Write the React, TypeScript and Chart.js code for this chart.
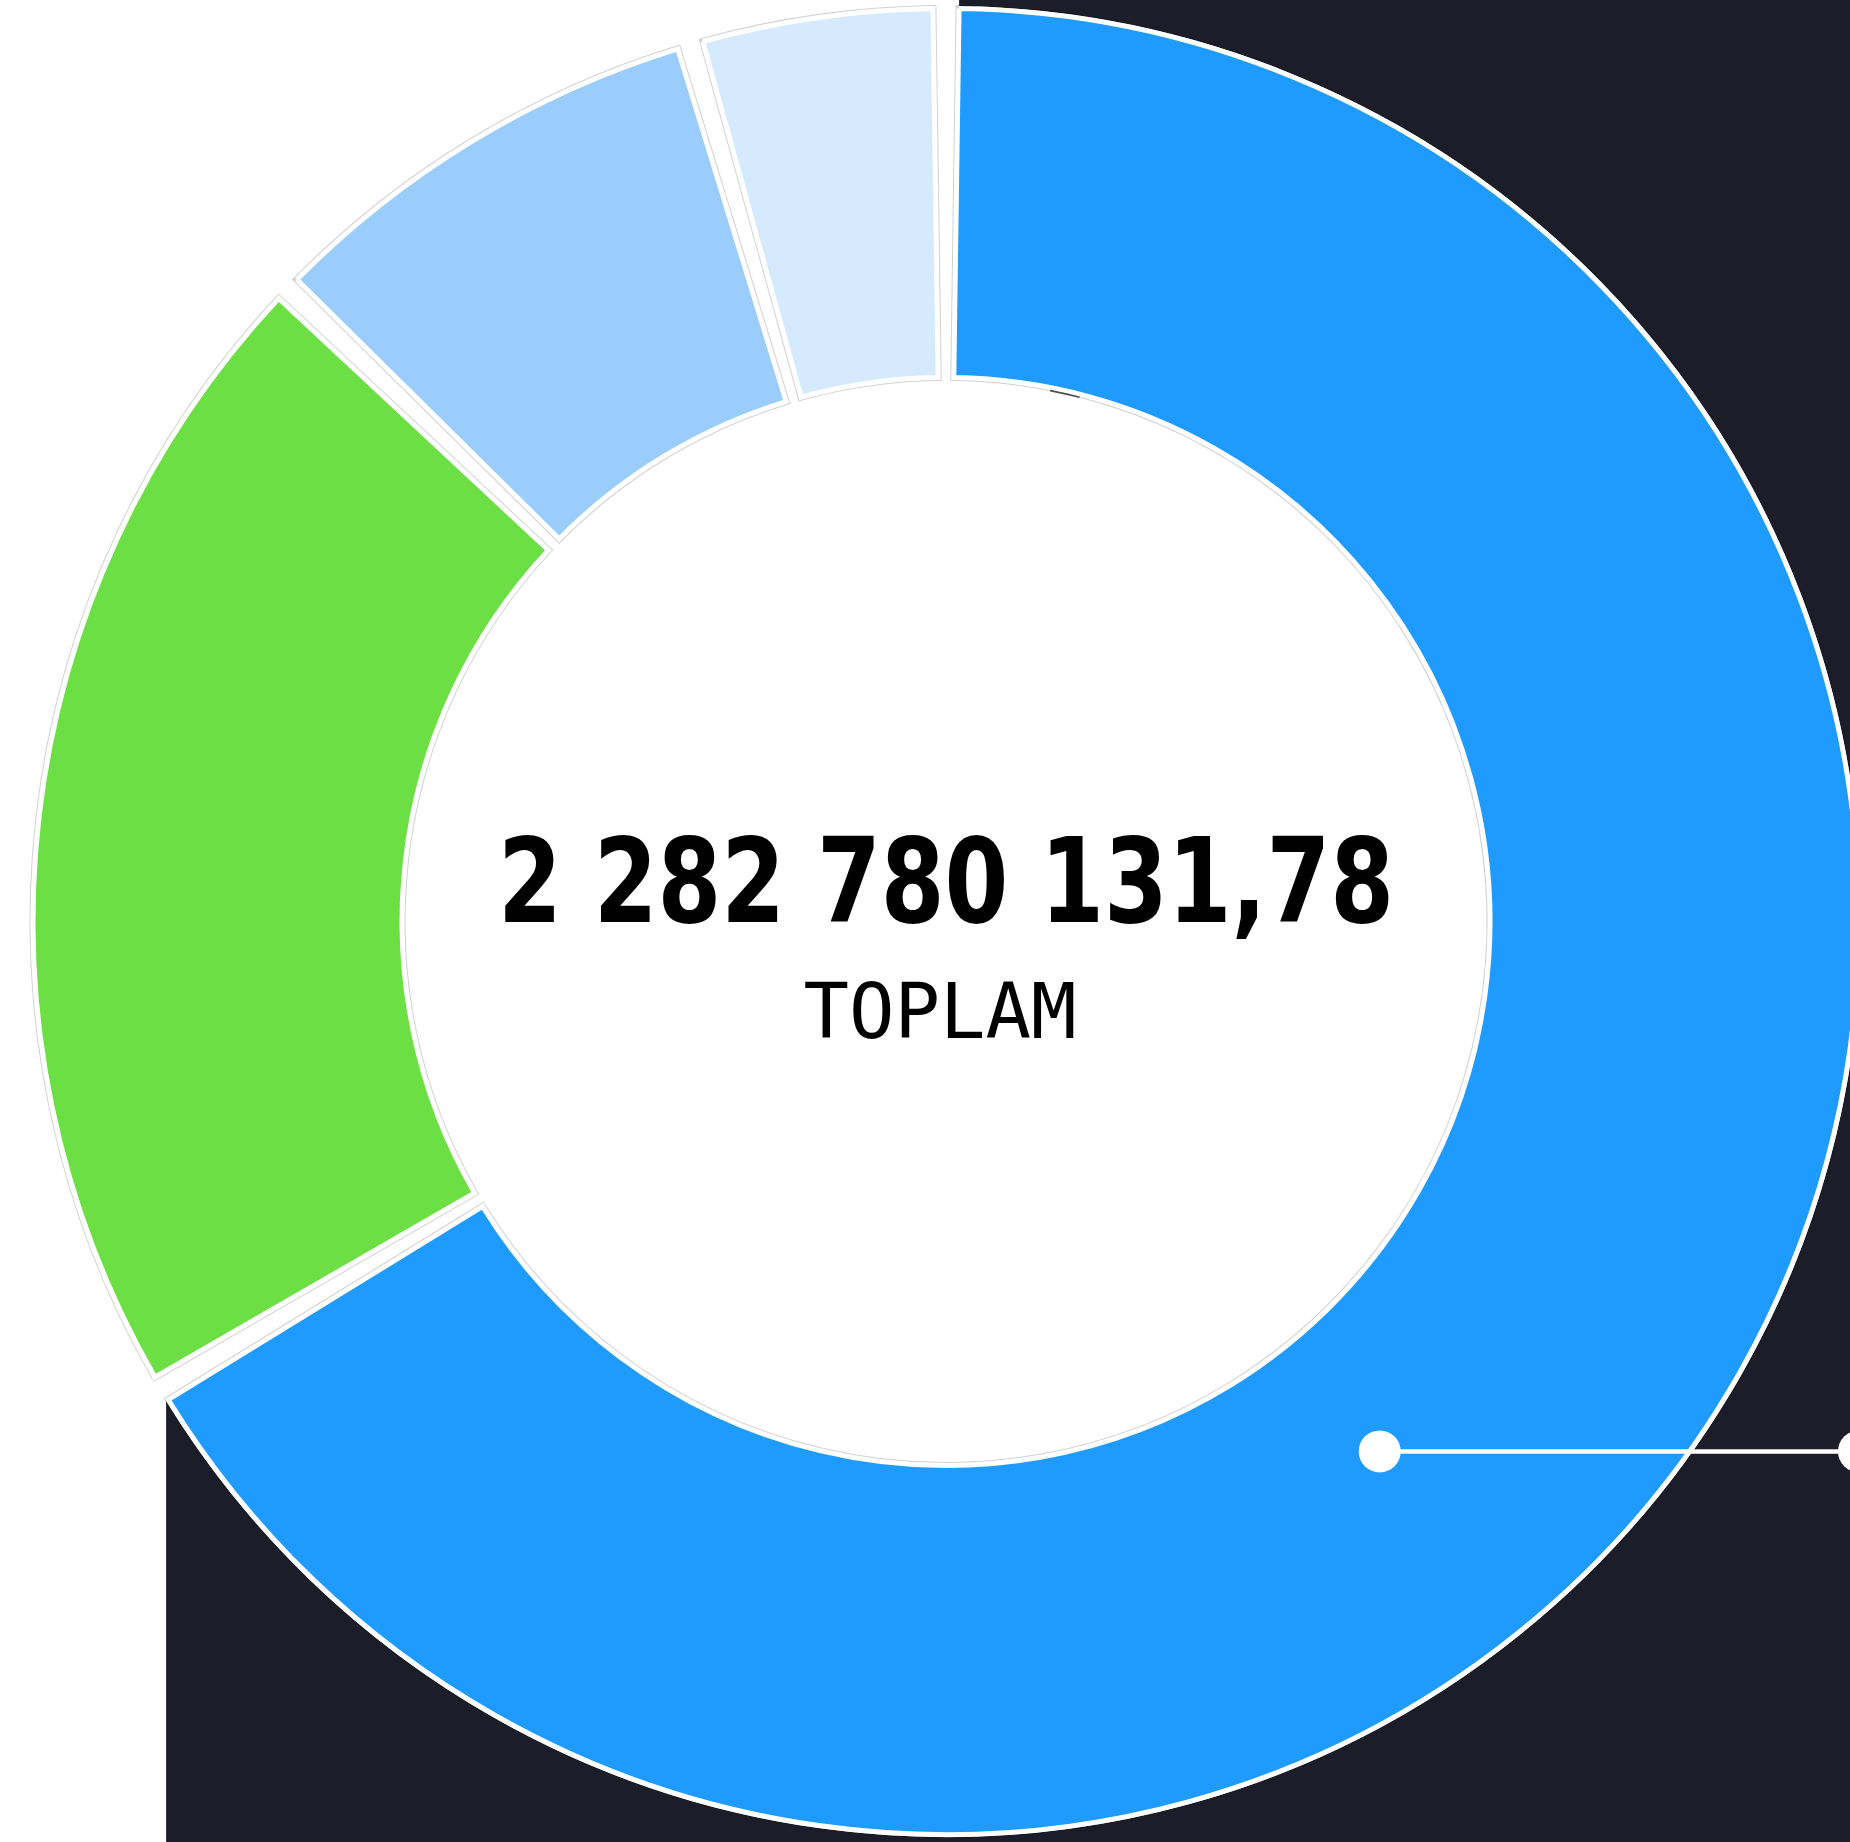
import { useEffect, useRef } from 'react';
import { Chart, registerables } from 'chart.js';

Chart.register(...registerables);

// ---- data ----
const categories = ['Kalem A', 'Kalem B', 'Kalem C', 'Kalem D'];
const values = [1516995873.12, 473218402.55, 189407021.84, 103158834.27];
const colors = ['#1f9bff', '#6cdf44', '#9acdfb', '#d5eafd'];
const totalLabel = 'TOPLAM';

// ---- style constants ----
const DARK = '#1d1c29';
const BORDER = 5;
const GAP_DEG = 0.82;
const OUTER_R = 913;
const CUTOUT = '59.58%';

function formatTotal(v: number): string {
  const [intPart, dec] = v.toFixed(2).split('.');
  return intPart.replace(/\B(?=(\d{3})+(?!\d))/g, ' ') + ',' + dec;
}

const gapPlugin = {
  id: 'gapTrim',
  afterDatasetUpdate(chart: any, args: any) {
    const g = (GAP_DEG * Math.PI) / 180;
    const meta = chart.getDatasetMeta(args.index);
    meta.data.forEach((arc: any) => {
      const s = arc.startAngle + g;
      const e = arc.endAngle - g;
      arc.startAngle = s;
      arc.endAngle = e;
      arc.circumference = e - s;
    });
  },
};

const backdropPlugin = {
  id: 'backdrop',
  beforeDatasetsDraw(chart: any) {
    const meta = chart.getDatasetMeta(0);
    const first: any = meta.data[0];
    if (!first) return;
    const { ctx, width, height } = chart;
    const r = first.outerRadius + BORDER / 2;
    const sx = first.x + r * Math.cos(first.startAngle);
    const ex = first.x + r * Math.cos(first.endAngle);
    const ey = first.y + r * Math.sin(first.endAngle);
    ctx.save();
    ctx.fillStyle = DARK;
    ctx.beginPath();
    ctx.moveTo(sx, 0);
    ctx.lineTo(width, 0);
    ctx.lineTo(width, height);
    ctx.lineTo(ex, height);
    ctx.lineTo(ex, ey);
    ctx.arc(first.x, first.y, r, first.endAngle, first.startAngle, true);
    ctx.closePath();
    ctx.fill();

    // thin grey outline around every slice
    ctx.strokeStyle = 'rgba(0,0,0,0.18)';
    ctx.lineWidth = BORDER + 2;
    ctx.lineJoin = 'miter';
    meta.data.forEach((arc: any) => {
      ctx.beginPath();
      ctx.arc(arc.x, arc.y, arc.outerRadius, arc.startAngle, arc.endAngle);
      ctx.lineTo(arc.x + arc.innerRadius * Math.cos(arc.endAngle), arc.y + arc.innerRadius * Math.sin(arc.endAngle));
      ctx.arc(arc.x, arc.y, arc.innerRadius, arc.endAngle, arc.startAngle, true);
      ctx.closePath();
      ctx.stroke();
    });
    ctx.restore();
  },
};

const overlayPlugin = {
  id: 'overlay',
  afterDatasetsDraw(chart: any) {
    const meta = chart.getDatasetMeta(0);
    const first: any = meta.data[0];
    if (!first) return;
    const { ctx } = chart;
    const cx = first.x;
    const cy = first.y;
    const R = first.outerRadius;
    ctx.save();

    // faint dark streak on the inner rim of the first slice
    ctx.strokeStyle = 'rgba(29,28,41,0.75)';
    ctx.lineWidth = 1.6;
    ctx.beginPath();
    ctx.arc(cx, cy, first.innerRadius - 3, (-78.9 * Math.PI) / 180, (-75.7 * Math.PI) / 180);
    ctx.stroke();

    // leader line with dots
    const a = (50.7 * Math.PI) / 180;
    const x1 = cx + 0.75 * R * Math.cos(a);
    const y1 = cy + 0.75 * R * Math.sin(a);
    const x2 = cx + 1.0 * R;
    ctx.strokeStyle = '#ffffff';
    ctx.fillStyle = '#ffffff';
    ctx.lineWidth = 4.5;
    ctx.beginPath();
    ctx.moveTo(x1, y1);
    ctx.lineTo(x2, y1);
    ctx.stroke();
    [x1, x2].forEach((x) => {
      ctx.beginPath();
      ctx.arc(x, y1, 21, 0, Math.PI * 2);
      ctx.fill();
    });

    // centre text
    const total = values.reduce((s, v) => s + v, 0);
    ctx.fillStyle = '#000000';
    ctx.textAlign = 'center';
    ctx.textBaseline = 'alphabetic';
    ctx.font = 'bold 118px "DejaVu Sans", sans-serif';
    ctx.fillText(formatTotal(total), cx, cy, 896);
    ctx.font = '77px "DejaVu Sans Mono", monospace';
    ctx.fillText(totalLabel, cx - 6, cy + 116.5, 273);
    ctx.restore();
  },
};

export default function App() {
  const ref = useRef<HTMLCanvasElement | null>(null);
  useEffect(() => {
    if (!ref.current) return;
    const chart = new Chart(ref.current, {
      type: 'doughnut',
      data: {
        labels: categories,
        datasets: [
          {
            data: values,
            backgroundColor: colors,
            borderColor: '#ffffff',
            borderWidth: BORDER,
            borderJoinStyle: 'miter',
            borderAlign: 'center',
            hoverOffset: 0,
          } as any,
        ],
      },
      options: {
        animation: false,
        responsive: true,
        maintainAspectRatio: false,
        radius: OUTER_R,
        cutout: CUTOUT,
        events: [],
        layout: { padding: { left: 0, right: 8, top: 1, bottom: 0 } },
        plugins: { legend: { display: false }, tooltip: { enabled: false } },
      } as any,
      plugins: [gapPlugin, backdropPlugin, overlayPlugin],
    });
    return () => chart.destroy();
  }, []);
  return (
    <div style={{ position: 'fixed', left: 0, top: 0, right: 0, bottom: 0, overflow: 'hidden', background: '#ffffff' }}>
      <div style={{ position: 'absolute', left: 0, top: 0, width: 1900, height: 1842 }}>
        <canvas ref={ref} />
      </div>
    </div>
  );
}
